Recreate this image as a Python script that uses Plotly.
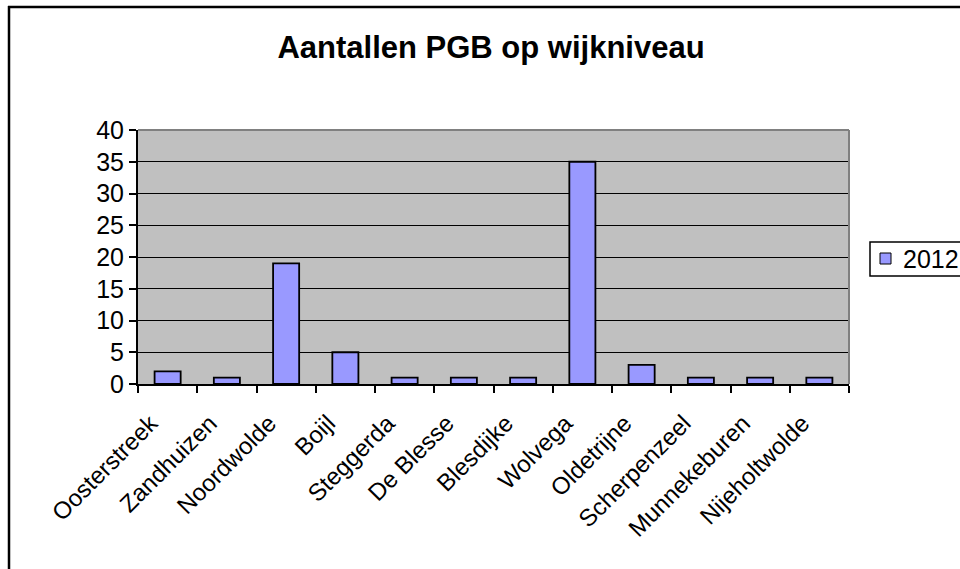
import plotly.graph_objects as go

categories = ["Oosterstreek", "Zandhuizen", "Noordwolde", "Boijl", "Steggerda", "De Blesse",
              "Blesdijke", "Wolvega", "Oldetrijne", "Scherpenzeel", "Munnekeburen", "Nijeholtwolde"]
values_2012 = [2, 1, 19, 5, 1, 1, 1, 35, 3, 1, 1, 1]
series_name = "2012"
y_ticks = [0, 5, 10, 15, 20, 25, 30, 35, 40]

W, H = 960, 569
L, R, T, B = 138, 849, 130, 384
pw, ph = R - L, B - T
BAR_COLOR = "#9999FF"

def px(x):
    return (x - L) / pw

def py(y):
    return (B - y) / ph

fig = go.Figure()
fig.add_trace(go.Bar(
    x=categories, y=values_2012, name=series_name, showlegend=False,
    marker=dict(color=BAR_COLOR, line=dict(color="black", width=1.8)),
))

font = "Liberation Sans, Arial, sans-serif"

# legend drawn as box + swatch + text (Excel style)
legend_shapes = [
    dict(type="rect", xref="paper", yref="paper", x0=px(870), x1=px(975), y0=py(242), y1=py(276),
         line=dict(color="black", width=1.5), fillcolor="white"),
    dict(type="rect", xref="paper", yref="paper", x0=px(880), x1=px(891), y0=py(253), y1=py(264),
         line=dict(color="black", width=1), fillcolor=BAR_COLOR),
]

fig.update_layout(
    width=W, height=H,
    margin=dict(l=L, r=W - R, t=T, b=H - B, pad=0, autoexpand=False),
    paper_bgcolor="white", plot_bgcolor="#C0C0C0",
    bargap=0.56,
    showlegend=False,
    font=dict(family=font, color="black", size=25),
    title=dict(text="<b>Aantallen PGB op wijkniveau</b>", x=491 / W, xanchor="center",
               y=1 - 47 / H, yanchor="middle", font=dict(size=31, family=font, color="black")),
    xaxis=dict(type="category", showgrid=False, ticks="outside", tickson="boundaries",
               ticklen=7, tickwidth=1.5, tickcolor="black", tickangle=-45,
               showline=True, linecolor="black", linewidth=1.5,
               ticklabelshift=-17, ticklabelstandoff=14,
               tickfont=dict(size=24, family=font), range=[-0.5, 11.5]),
    yaxis=dict(range=[0, 40], tickvals=y_ticks, showgrid=True, gridcolor="black", gridwidth=1,
               ticks="outside", ticklen=7, tickwidth=1.5, tickcolor="black",
               showline=True, linecolor="black", linewidth=2, zeroline=False,
               tickfont=dict(size=25, family=font)),
    shapes=[
        dict(type="line", xref="paper", yref="paper", x0=0, x1=1, y0=1, y1=1,
             line=dict(color="#808080", width=2)),
        dict(type="line", xref="paper", yref="paper", x0=1, x1=1, y0=0, y1=1,
             line=dict(color="#808080", width=2)),
        dict(type="line", xref="paper", yref="paper", x0=px(9), x1=px(9), y0=py(6), y1=py(600),
             line=dict(color="black", width=2.5)),
        dict(type="line", xref="paper", yref="paper", x0=px(8), x1=px(1000), y0=py(7), y1=py(7),
             line=dict(color="black", width=2.5)),
    ] + legend_shapes,
    annotations=[
        dict(text=series_name, xref="paper", yref="paper", x=px(901), y=py(259),
             xanchor="left", yanchor="middle", showarrow=False,
             font=dict(size=25, family=font, color="black")),
    ],
)

fig.write_html("out.html", config={"displayModeBar": False},
               post_script="document.body.style.margin='0';document.body.style.overflow='hidden';")
